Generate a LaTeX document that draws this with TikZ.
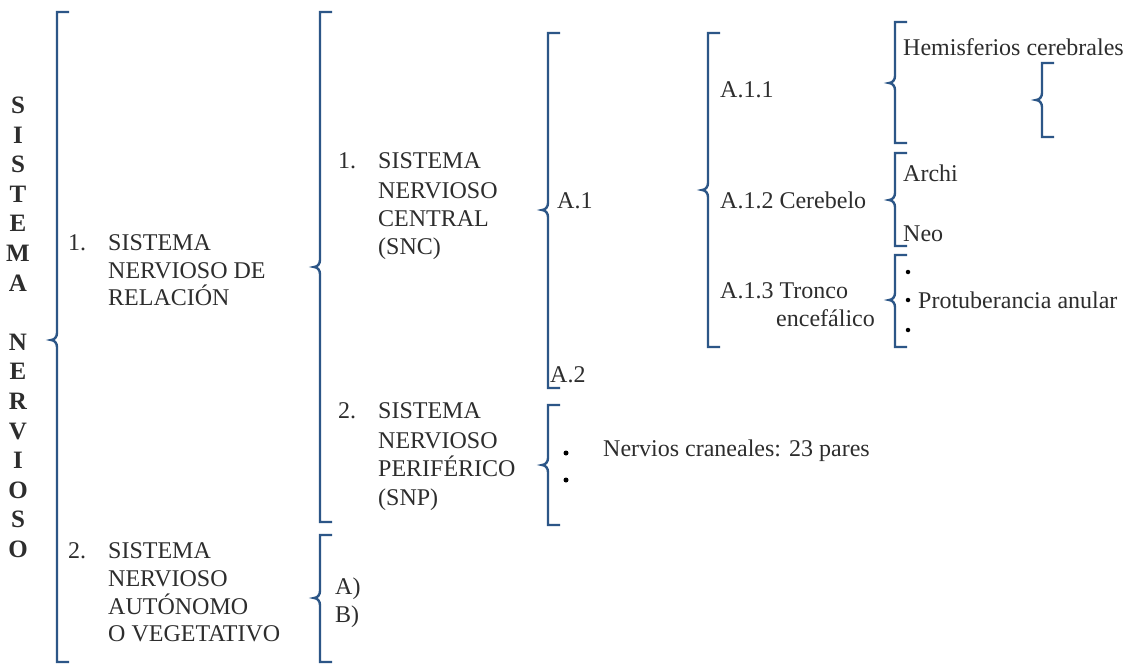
\documentclass[tikz,border=0pt]{standalone}
\usepackage{fontspec}
\setmainfont{Liberation Serif}
\definecolor{brkblue}{RGB}{44,86,135}
\definecolor{txtgray}{RGB}{45,45,45}
\newcommand\bracketdraw[4]{%
  \draw[brk] (#1+12,#2) -- (#1,#2) -- (#1,#4-7) to[out=-90,in=0] (#1-6,#4)
    to[out=0,in=90] (#1,#4+7) -- (#1,#3) -- (#1+12,#3);}
\tikzset{
  brk/.style={draw=brkblue, line width=2.4pt, line join=miter},
  txt/.style={anchor=base west, inner sep=0pt, text=txtgray, font=\fontsize{24}{28}\selectfont},
  vl/.style={anchor=base, inner sep=0pt, text=txtgray, font=\bfseries\fontsize{25}{28}\selectfont},
  dot/.style={circle, fill=black, inner sep=0pt, minimum size=5pt},
}
\begin{document}
\begin{tikzpicture}[x=1pt,y=-1pt]
\useasboundingbox[fill=white] (0,0) rectangle (1137,666);

% vertical title
\foreach \l/\k in {S/0,I/1,S/2,T/3,E/4,M/5,A/6,N/8,E/9,R/10,V/11,I/12,O/13,S/14,O/15}
  \node[vl] (v\k) at (18,{105+\k*29.6+8.5}) {\l};

% brackets
\bracketdraw{57}{12}{662}{340}
\bracketdraw{320}{12}{522}{267}
\bracketdraw{320}{535}{662}{598}
\bracketdraw{548}{33}{388}{210}
\bracketdraw{548}{405}{525}{465}
\bracketdraw{708}{33}{347}{190}
\bracketdraw{895}{22}{143}{83}
\bracketdraw{1042}{63}{137}{100}
\bracketdraw{895}{153}{246}{200}
\bracketdraw{895}{255}{347}{300}

% level 1
\node[txt] (n1) at (68,250) {1.};
\node[txt] (r1) at (108,250) {SISTEMA};
\node[txt] (r2) at (108,278) {NERVIOSO DE};
\node[txt] (r3) at (108,305) {RELACIÓN};
\node[txt] (n2) at (68,558) {2.};
\node[txt] (a1) at (108,558) {SISTEMA};
\node[txt] (a2) at (108,586) {NERVIOSO};
\node[txt] (a3) at (108,614) {AUTÓNOMO};
\node[txt] (a4) at (108,641) {O VEGETATIVO};

% level 2
\node[txt] (m1) at (338,168) {1.};
\node[txt] (c1) at (378,168) {SISTEMA};
\node[txt] (c2) at (378,198) {NERVIOSO};
\node[txt] (c3) at (378,226) {CENTRAL};
\node[txt] (c4) at (378,254) {(SNC)};
\node[txt] (m2) at (338,418) {2.};
\node[txt] (p1) at (378,418) {SISTEMA};
\node[txt] (p2) at (378,448) {NERVIOSO};
\node[txt] (p3) at (378,476) {PERIFÉRICO};
\node[txt] (p4) at (378,505) {(SNP)};
\node[txt] (ta) at (335,594) {A)};
\node[txt] (tb) at (335,622) {B)};

% level 3
\node[txt] (A1) at (557,208) {A.1};
\node[txt] (A2) at (550,382) {A.2};
\node[dot] (b1) at (566,453) {};
\node[dot] (b2) at (566,480) {};
\node[txt] (nc) at (603,456) {Nervios craneales: 23 pares};

% level 4
\node[txt] (A11) at (720,98) {A.1.1};
\node[txt] (A12) at (720,208) {A.1.2 Cerebelo};
\node[txt] (A13) at (720,298) {A.1.3 Tronco};
\node[txt, anchor=base east] (A13b) at (875,326) {encefálico};

% level 5
\node[txt] (hc) at (903,56) {Hemisferios cerebrales};
\node[txt] (ar) at (903,181) {Archi};
\node[txt] (ne) at (903,241) {Neo};
\node[dot, minimum size=4.5pt] (t1) at (908,272) {};
\node[dot, minimum size=4.5pt] (t2) at (908,300) {};
\node[dot, minimum size=4.5pt] (t3) at (908,330) {};
\node[txt] (pa) at (918,308) {Protuberancia anular};
\end{tikzpicture}
\end{document}
